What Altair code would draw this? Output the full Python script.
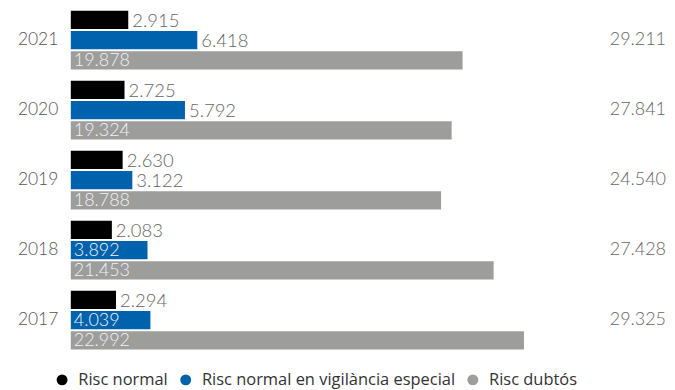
import altair as alt
import pandas as pd

years = ["2021", "2020", "2019", "2018", "2017"]
series = ["Risc normal", "Risc normal en vigilància especial", "Risc dubtós"]
risc_normal = [2915, 2725, 2630, 2083, 2294]
risc_vigilancia = [6418, 5792, 3122, 3892, 4039]
risc_dubtos = [19878, 19324, 18788, 21453, 22992]
totals = [29211, 27841, 24540, 27428, 29325]
colors = ["#000000", "#0062AD", "#9D9D9C"]
blue_inside_years = ["2018", "2017"]


def fmt(v):
    return f"{v:,}".replace(",", ".")


rows = []
for i, y in enumerate(years):
    for s, vals in zip(series, [risc_normal, risc_vigilancia, risc_dubtos]):
        v = vals[i]
        inside = s == series[2] or (s == series[1] and y in blue_inside_years)
        rows.append({"year": y, "series": s, "value": v, "label": fmt(v), "inside": inside})
df = pd.DataFrame(rows)
tot_df = pd.DataFrame({"year": years, "total": [fmt(t) for t in totals]})

FONT = "Lato Light, Lato"
W, H = 597, 344
y_enc = alt.Y("year:N", sort=years, title=None,
              scale=alt.Scale(paddingInner=0.16, paddingOuter=0.03),
              axis=alt.Axis(ticks=False, domain=False, labelPadding=13,
                            labelFont=FONT, labelFontSize=17.5, labelFontWeight=300,
                            labelColor="#555555"))
yoff = alt.YOffset("series:N", sort=series, scale=alt.Scale(paddingInner=0.1))
x_scale = alt.Scale(domain=[0, 30200])

base = alt.Chart(df).encode(y=y_enc, yOffset=yoff)

bars = base.mark_bar().encode(
    x=alt.X("value:Q", scale=x_scale, axis=None),
    color=alt.Color("series:N", sort=series,
                    scale=alt.Scale(domain=series, range=colors),
                    legend=alt.Legend(title=None, orient="none", direction="horizontal",
                                      legendX=-17, legendY=364, symbolType="circle",
                                      symbolSize=120, symbolStrokeWidth=0,
                                      labelFont="Open Sans", labelFontSize=16.5,
                                      labelColor="#333333", columnPadding=9,
                                      labelOffset=8, padding=0, labelLimit=0)),
)

out_text = base.transform_filter("!datum.inside").mark_text(
    align="left", baseline="middle", dx=4, dy=1, font=FONT, fontSize=18.5,
    fontWeight=300, color="#666666"
).encode(x=alt.X("value:Q", scale=x_scale), text="label:N")

in_text = base.transform_filter("datum.inside").mark_text(
    align="left", baseline="middle", dx=3, dy=1, font=FONT, fontSize=18,
    fontWeight=300, color="#f2f2f2"
).encode(x=alt.X(datum=0, type="quantitative", scale=x_scale), text="label:N")

tot_text = alt.Chart(tot_df).mark_text(
    align="right", baseline="middle", font=FONT, fontSize=18,
    fontWeight=300, color="#666666"
).encode(y=alt.Y("year:N", sort=years), x=alt.value(W), text="total:N")

chart = alt.layer(bars, out_text, in_text, tot_text).properties(
    width=W, height=H,
    autosize=alt.AutoSizeParams(type="none"),
    padding={"left": 63, "top": 0, "right": 1, "bottom": 46},
).configure_view(stroke=None)

chart.save("out.html", embed_options={"renderer": "svg", "actions": False})
